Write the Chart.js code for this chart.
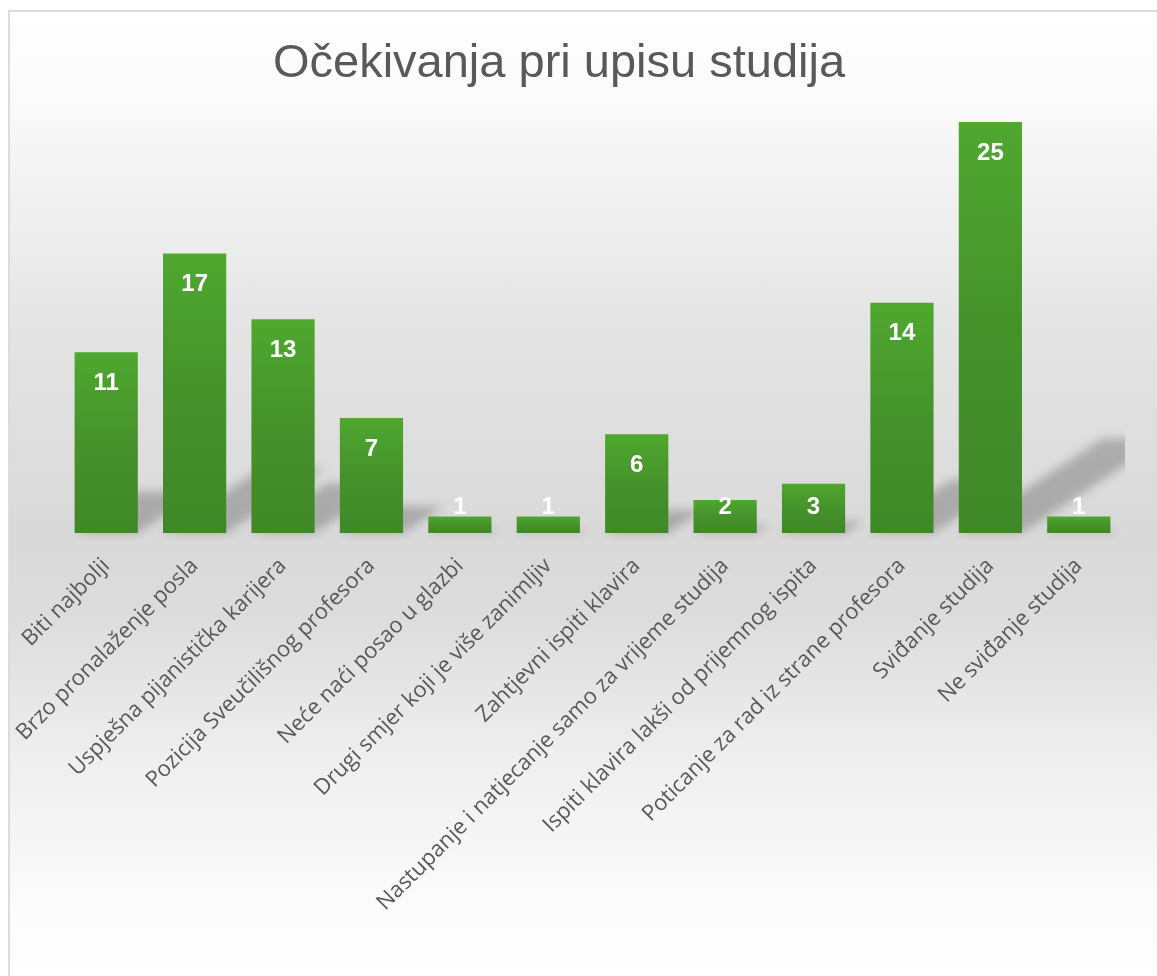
<!DOCTYPE html>
<html>
<head>
<meta charset="utf-8">
<script src="https://cdn.jsdelivr.net/npm/chart.js@4.4.1/dist/chart.umd.min.js"></script>
<style>
    html, body { margin: 0; padding: 0; background: #ffffff; overflow: hidden; }
    #box {
        position: absolute; left: 8px; top: 10px;
        width: 1160px; height: 970px;
        border: 2px solid #dcdcdc;
        background: linear-gradient(to bottom, #ffffff 0px, #fafafa 90px, #e4e4e4 320px, #d9d9d9 520px,
            #dcdcdc 600px, #efefef 750px, #fcfcfc 900px, #ffffff 966px);
    }
    #myBarChart { display: block; }
</style>
</head>
<body>
<div id="box"><canvas id="myBarChart" width="1160" height="970"></canvas></div>
<script>
var chartTitle = 'Očekivanja pri upisu studija';

var categories = [
    'Biti najbolji',
    'Brzo pronalaženje posla',
    'Uspješna pijanistička karijera',
    'Pozicija Sveučilišnog profesora',
    'Neće naći posao u glazbi',
    'Drugi smjer koji je više zanimljiv',
    'Zahtjevni ispiti klavira',
    'Nastupanje i natjecanje samo za vrijeme studija',
    'Ispiti klavira lakši od prijemnog ispita',
    'Poticanje za rad iz strane profesora',
    'Sviđanje studija',
    'Ne sviđanje studija'
];

var counts = [11, 17, 13, 7, 1, 1, 6, 2, 3, 14, 25, 1];

// gradient of each bar, top to bottom
function barFill(c) {
    var chart = c.chart;
    var yScale = chart.scales.y;
    if (!yScale || !chart.chartArea || c.raw == null) return '#4ea72e';
    var g = chart.ctx.createLinearGradient(0, yScale.getPixelForValue(c.raw), 0, yScale.getPixelForValue(0));
    g.addColorStop(0, '#4fa82f');
    g.addColorStop(0.5, '#45922b');
    g.addColorStop(1, '#3f8827');
    return g;
}

// slanted shadow behind each bar
var barShadows = {
    id: 'barShadows',
    beforeDatasetsDraw: function(chart) {
        var ctx = chart.ctx, area = chart.chartArea;
        var meta = chart.getDatasetMeta(0);
        ctx.save();
        ctx.beginPath();
        ctx.rect(area.left - 10, area.top - 20, area.right - area.left + 12, area.bottom - area.top + 30);
        ctx.clip();
        ctx.filter = 'blur(5px)';
        ctx.fillStyle = 'rgba(0,0,0,0.22)';
        meta.data.forEach(function(bar) {
            var p = bar.getProps(['x', 'y', 'base', 'width'], true);
            var h = p.base - p.y;
            var l = p.x - p.width / 2, r = p.x + p.width / 2;
            ctx.beginPath();
            ctx.moveTo(l, p.base);
            ctx.lineTo(r, p.base);
            ctx.lineTo(r + h * 0.35, p.base - h * 0.23);
            ctx.lineTo(l + h * 0.35, p.base - h * 0.23);
            ctx.closePath();
            ctx.fill();
        });
        ctx.restore();
    }
};

// white value labels inside the bar ends
var valueLabels = {
    id: 'valueLabels',
    afterDatasetsDraw: function(chart) {
        var ctx = chart.ctx;
        var meta = chart.getDatasetMeta(0);
        ctx.save();
        ctx.fillStyle = '#ffffff';
        ctx.font = 'bold 24px "Liberation Sans", Arial, sans-serif';
        ctx.textAlign = 'center';
        ctx.textBaseline = 'middle';
        meta.data.forEach(function(bar, i) {
            var p = bar.getProps(['x', 'y', 'base'], true);
            var cy = Math.min(p.y + 31, p.base - 26);
            ctx.fillText(String(counts[i]), p.x, cy);
        });
        ctx.restore();
    }
};

var titleText = {
    id: 'titleText',
    afterDraw: function(chart) {
        var ctx = chart.ctx;
        ctx.save();
        ctx.fillStyle = '#595959';
        ctx.font = '47px "Liberation Sans", Arial, sans-serif';
        ctx.textAlign = 'center';
        ctx.textBaseline = 'alphabetic';
        ctx.fillText(chartTitle, 549, 65);
        ctx.restore();
    }
};

var ctx = document.getElementById('myBarChart').getContext('2d');
var myBarChart = new Chart(ctx, {
    type: 'bar',
    data: {
        labels: categories,
        datasets: [{
            label: chartTitle,
            data: counts,
            backgroundColor: barFill,
            borderWidth: 0,
            barPercentage: 0.715,
            categoryPercentage: 1.0
        }]
    },
    options: {
        responsive: false,
        animation: false,
        layout: { padding: { left: 52, right: 47, top: 110, bottom: 20 } },
        plugins: {
            legend: { display: false },
            tooltip: { enabled: false },
            title: { display: false }
        },
        scales: {
            x: {
                grid: { display: false },
                border: { display: false },
                ticks: {
                    autoSkip: false,
                    maxRotation: 45,
                    minRotation: 45,
                    padding: 12,
                    color: '#595959',
                    font: { family: '"Open Sans", "Noto Sans", sans-serif', size: 22 }
                },
                afterFit: function(axis) { axis.height = 429; }
            },
            y: {
                display: false,
                min: 0,
                max: 25
            }
        }
    },
    plugins: [barShadows, valueLabels, titleText]
});
</script>
</body>
</html>
